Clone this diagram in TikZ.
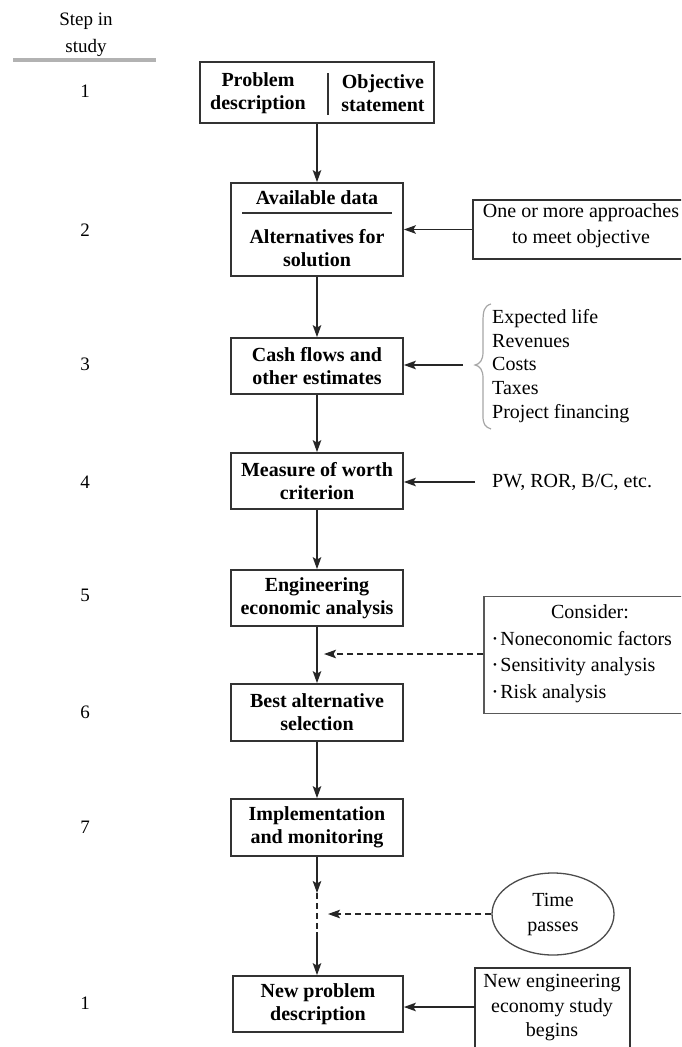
\documentclass[tikz,border=0pt]{standalone}
\usepackage{fontspec}
\setmainfont{Liberation Serif}
\usetikzlibrary{arrows.meta,shapes.geometric}
\definecolor{boxgray}{gray}{0.2}
\definecolor{linegray}{gray}{0.15}
\begin{document}
\begin{tikzpicture}[x=1pt,y=-1pt,
  box/.style={draw=boxgray,line width=1.7pt,minimum width=172pt,inner sep=0pt,align=center,font=\fontsize{20}{23}\selectfont\bfseries},
  btxt/.style={inner sep=0pt,align=center,font=\fontsize{20}{23}\selectfont\bfseries},
  txt/.style={inner sep=0pt,align=center,font=\fontsize{20}{25}\selectfont},
  steptxt/.style={inner sep=0pt,align=center,font=\fontsize{19}{27}\selectfont},
  sidebox/.style={draw=boxgray,line width=1.5pt,inner sep=0pt},
  arr/.style={line width=1.6pt,draw=linegray,-{Stealth[length=12pt,width=8.5pt,inset=2.5pt]}},
  darr/.style={arr,dash pattern=on 6pt off 4pt},
]
\useasboundingbox (0,0) rectangle (681,1047);
\clip (0,0) rectangle (681,1047);

% step column
\node[steptxt] (hdr) at (86,35) {Step in\\study};
\draw[gray!60,line width=3.2pt] (13,60) -- (156,60);
\node[steptxt] (s1) at (85,91) {1};
\node[steptxt] (s2) at (85,230) {2};
\node[steptxt] (s3) at (85,364) {3};
\node[steptxt] (s4) at (85,482) {4};
\node[steptxt] (s5) at (85,595) {5};
\node[steptxt] (s6) at (85,712) {6};
\node[steptxt] (s7) at (85,827) {7};
\node[steptxt] (s8) at (85,1003) {1};

% box 1
\node[box,minimum width=234pt,minimum height=61pt] (b1) at (317,92.5) {};
\node[btxt] (t1a) at (258,93) {Problem\\description};
\node[btxt] (t1b) at (383,93) {Objective\\statement};
\draw[boxgray,line width=1.4pt] (328,73) -- (328,115);

% box 2
\node[box,minimum height=93pt] (b2) at (317,229.5) {};
\node[btxt] (t2a) at (317,198) {Available data};
\draw[boxgray,line width=1.2pt] (242,213) -- (392,213);
\node[btxt] (t2b) at (317,248.5) {Alternatives for\\solution};

% boxes 3-8
\node[box,minimum height=56pt] (b3) at (317,366) {Cash flows and\\other estimates};
\node[box,minimum height=56pt] (b4) at (317,481) {Measure of worth\\criterion};
\node[box,minimum height=56pt] (b5) at (317,598) {Engineering\\economic analysis};
\node[box,minimum height=57pt] (b6) at (317,712.5) {Best alternative\\selection};
\node[box,minimum height=57pt] (b7) at (317,827.5) {Implementation\\and monitoring};
\node[box,minimum width=170pt,minimum height=56pt] (b8) at (318,1004) {New problem\\description};

% main flow
\draw[arr] (b1.south -| b2.north) -- (b2.north);
\draw[arr] (b2) -- (b3);
\draw[arr] (b3) -- (b4);
\draw[arr] (b4) -- (b5);
\draw[arr] (b5) -- (b6);
\draw[arr] (b6) -- (b7);
\coordinate (m1) at (317,893);
\coordinate (m2) at (317,932);
\draw[arr] (b7.south) -- (m1);
\draw[line width=1.6pt,draw=linegray,dash pattern=on 6pt off 4pt] (m1) -- (m2);
\draw[arr] (m2) -- (b8.north -| m2);

% side: approaches
\node[sidebox,minimum width=227pt,minimum height=59pt] (r2) at (586.5,229.5) {};
\node[txt,font=\fontsize{20}{26}\selectfont] (r2t) at (581,226) {One or more approaches\\to meet objective};
\draw[arr] (r2.west) -- (r2.west -| b2.east);

% side: brace list
\node[inner sep=0pt,anchor=west,align=left,font=\fontsize{20}{23.75}\selectfont] (lst) at (492,366) {Expected life\\Revenues\\Costs\\Taxes\\Project financing};
\draw[gray!70,line width=1.2pt] (491,304) .. controls (484,306) and (483,311) .. (483,322) -- (483,352) .. controls (483,360) and (480,364) .. (475,365) .. controls (480,366) and (483,370) .. (483,378) -- (483,416) .. controls (483,424) and (485,427) .. (491,429);
\coordinate (bt) at (463,365);
\draw[arr] (bt) -- (bt -| b3.east);

% side: PW
\node[inner sep=0pt,anchor=west,font=\fontsize{20}{23}\selectfont] (pw) at (492,482) {PW, ROR, B/C, etc.};
\coordinate (pa) at (475,482);
\draw[arr] (pa) -- (pa -| b4.east);

% side: consider
\node[sidebox,draw=black!65,minimum width=232pt,minimum height=117pt] (cons) at (600,655) {};
\node[txt] (ct) at (590,612) {Consider:};
\node[inner sep=0pt,anchor=west,align=left,font=\fontsize{20}{26.5}\selectfont] (cl) at (493,667)
  {\raisebox{0.35ex}{\scalebox{0.55}{\textbullet}}\,Noneconomic factors\\
   \raisebox{0.35ex}{\scalebox{0.55}{\textbullet}}\,Sensitivity analysis\\
   \raisebox{0.35ex}{\scalebox{0.55}{\textbullet}}\,Risk analysis};
\coordinate (d1) at (324,654);
\draw[darr] (cons.west |- d1) -- (d1);

% side: time passes
\node[ellipse,draw=black!70,line width=1.3pt,minimum width=122pt,minimum height=82pt,inner sep=0pt,align=center,font=\fontsize{20}{25}\selectfont] (time) at (553,914) {Time\\passes};
\coordinate (d2) at (328,914);
\draw[darr] (time.west) -- (d2);

% side: new study
\node[sidebox,minimum width=155pt,minimum height=112pt] (r8) at (552.5,1024) {};
\node[txt,font=\fontsize{20}{24.5}\selectfont] (r8t) at (552,1008) {New engineering\\economy study\\begins};
\coordinate (a8) at (475,1007);
\draw[arr] (a8) -- (a8 -| b8.east);
\end{tikzpicture}
\end{document}
